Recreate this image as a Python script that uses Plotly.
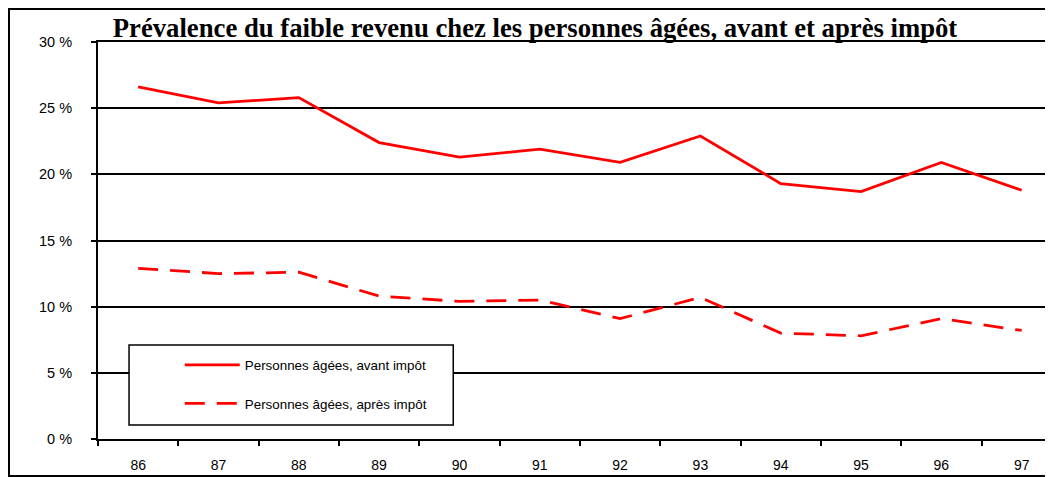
import plotly.graph_objects as go

years = ["86", "87", "88", "89", "90", "91", "92", "93", "94", "95", "96", "97"]
avant_impot = [26.6, 25.4, 25.8, 22.4, 21.3, 21.9, 20.9, 22.9, 19.3, 18.7, 20.9, 18.8]
apres_impot = [12.9, 12.5, 12.6, 10.8, 10.4, 10.5, 9.1, 10.7, 8.0, 7.8, 9.1, 8.2]
y_ticks = [0, 5, 10, 15, 20, 25, 30]
y_labels = ["0 %", "5 %", "10 %", "15 %", "20 %", "25 %", "30 %"]

RED = "#ff0000"

fig = go.Figure()
fig.add_trace(go.Scatter(
    x=years, y=avant_impot, mode="lines",
    name="Personnes âgées, avant impôt",
    line=dict(color=RED, width=2.8),
    legendgroup="a",
))
fig.add_trace(go.Scatter(
    x=years, y=apres_impot, mode="lines",
    name="Personnes âgées, après impôt",
    line=dict(color=RED, width=2.8, dash="20px,12px"),
    legendgroup="b",
))

# outer frame of the chart and the legend box
fig.add_shape(type="rect", xref="paper", yref="paper",
              x0=-0.0932, x1=1.02, y0=-0.0932, y1=1.0831,
              line=dict(color="black", width=2), layer="below")
fig.add_shape(type="rect", xref="paper", yref="paper",
              x0=0.0325, x1=0.372, y0=0.0354, y1=0.237,
              line=dict(color="black", width=1.5), fillcolor="white", layer="above")

fig.update_layout(
    width=1053, height=477,
    margin=dict(l=90, r=8, t=34, b=46),
    paper_bgcolor="white", plot_bgcolor="white",
    title=dict(
        text="<b>Prévalence du faible revenu chez les personnes âgées, avant et après impôt</b>",
        font=dict(family="Liberation Serif", size=26.7, color="black"),
        x=0.5005, xanchor="center", y=0.958, yanchor="middle",
    ),
    font=dict(family="Liberation Sans", size=14, color="black"),
    showlegend=True,
    legend=dict(
        x=0.0856, y=0.225, xanchor="left", yanchor="top",
        bgcolor="rgba(0,0,0,0)", borderwidth=0,
        font=dict(family="Liberation Sans", size=13.4, color="black"),
        tracegroupgap=18, traceorder="grouped",
        itemwidth=55,
    ),
    xaxis=dict(
        type="category", range=[-0.5, 11.39],
        showgrid=False, showline=True, linecolor="black", linewidth=2,
        mirror=True,
        ticks="outside", tickson="boundaries", ticklen=5, tickcolor="black", tickwidth=2,
        tickfont=dict(family="Liberation Sans", size=14),
        ticklabelstandoff=12,
        fixedrange=True,
    ),
    yaxis=dict(
        range=[0, 30], tickvals=y_ticks, ticktext=y_labels,
        showgrid=True, gridcolor="black", gridwidth=1.5,
        showline=True, linecolor="black", linewidth=2,
        ticks="outside", ticklen=5, tickcolor="black", tickwidth=2,
        tickfont=dict(family="Liberation Sans", size=14.5),
        ticklabelstandoff=16,
        zeroline=False,
    ),
)

fig.write_html("out.html")
